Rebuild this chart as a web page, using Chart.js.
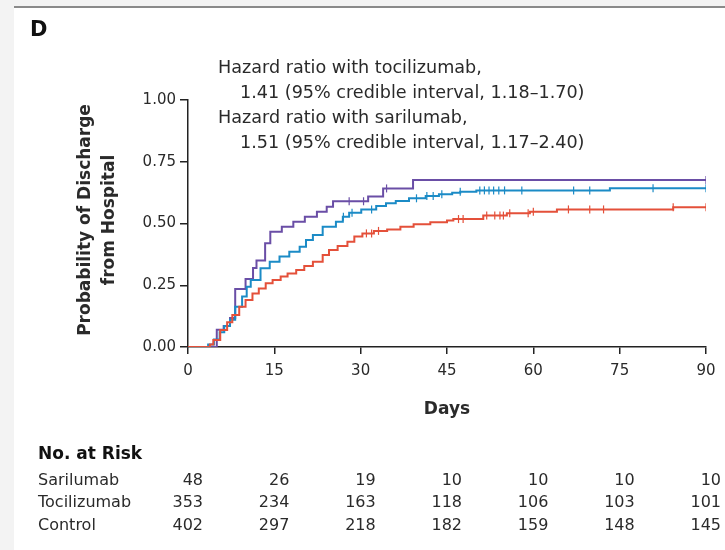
<!DOCTYPE html>
<html>
<head>
<meta charset="utf-8">
<script src="https://cdn.jsdelivr.net/npm/chart.js@4.4.1/dist/chart.umd.min.js"></script>
<style>
html,body{margin:0;padding:0;background:#f3f3f3;}
#wrap{position:absolute;left:0;top:0;width:725px;height:550px;}
</style>
</head>
<body>
<div id="wrap"><canvas id="c" width="725" height="550"></canvas></div>
<script>
// ---- data ----
const sarilumabDays = [0, 5.0, 6.2, 7.3, 8.2, 10.0, 11.3, 11.9, 13.4, 14.3, 16.3, 18.3, 20.3, 22.4, 24.1, 25.2, 31.3, 33.9, 39.1, 90];
const sarilumabProb = [0, 0.07, 0.085, 0.117, 0.235, 0.275, 0.32, 0.35, 0.42, 0.467, 0.487, 0.507, 0.527, 0.548, 0.568, 0.59, 0.609, 0.642, 0.676, 0.676];

const tocilizumabDays = [0, 3.5, 4.5, 5.5, 6.3, 7.3, 8.2, 9.4, 10.2, 10.9, 12.6, 14.2, 15.9, 17.6, 19.4, 20.5, 21.7, 23.4, 25.7, 26.9, 28.0, 30.1, 32.7, 34.4, 36.1, 38.4, 41.3, 43.6, 45.9, 47.3, 50.1, 73.3, 90];
const tocilizumabProb = [0, 0.01, 0.03, 0.06, 0.085, 0.11, 0.163, 0.204, 0.244, 0.271, 0.319, 0.345, 0.366, 0.386, 0.406, 0.433, 0.453, 0.487, 0.507, 0.527, 0.544, 0.557, 0.571, 0.582, 0.591, 0.602, 0.611, 0.618, 0.625, 0.629, 0.634, 0.643, 0.643];

const controlDays = [0, 3.8, 4.4, 5.6, 6.8, 7.7, 8.9, 10.0, 11.2, 12.3, 13.5, 14.7, 16.1, 17.3, 18.8, 20.2, 21.7, 23.4, 24.5, 26.0, 27.7, 28.9, 30.3, 32.3, 34.6, 36.9, 39.2, 42.1, 45.0, 46.1, 51.3, 55.4, 59.4, 64.1, 84.3, 90];
const controlProb = [0, 0.01, 0.028, 0.069, 0.10, 0.13, 0.163, 0.19, 0.217, 0.237, 0.258, 0.271, 0.285, 0.298, 0.312, 0.328, 0.345, 0.372, 0.393, 0.409, 0.426, 0.447, 0.46, 0.47, 0.476, 0.487, 0.497, 0.505, 0.512, 0.518, 0.532, 0.541, 0.548, 0.557, 0.566, 0.566];

const sarilumabCensored = [28, 30.5, 34.5, 90];
const tocilizumabCensored = [27, 28.5, 31.9, 39.7, 41.5, 42.6, 44.1, 47.3, 50.7, 51.5, 52.3, 53.1, 54, 55, 58, 67, 69.8, 80.8, 90];
const controlCensored = [31.0, 31.9, 33.1, 47.0, 47.8, 51.9, 53.3, 54.2, 54.8, 55.9, 59.1, 60, 66.1, 69.8, 72.2, 84.3, 90];

const xTicks = [0, 15, 30, 45, 60, 75, 90];
const yTicks = [0, 0.25, 0.5, 0.75, 1.0];

const riskGroups = ['Sarilumab', 'Tocilizumab', 'Control'];
const riskSarilumab = [48, 26, 19, 10, 10, 10, 10];
const riskTocilizumab = [353, 234, 163, 118, 106, 103, 101];
const riskControl = [402, 297, 218, 182, 159, 148, 145];

const hrLines = [
  'Hazard ratio with tocilizumab,',
  '1.41 (95% credible interval, 1.18\u20131.70)',
  'Hazard ratio with sarilumab,',
  '1.51 (95% credible interval, 1.17\u20132.40)'
];

// ---- styling ----
const C_SAR = '#6a4ea6';
const C_TOC = '#1b8bc6';
const C_CON = '#e4503a';
const FONT = '"DejaVu Sans", "Liberation Sans", sans-serif';
const TXT = '#2a2a2a';

function pts(d, p) { return d.map((x, i) => ({x: x, y: p[i]})); }
function stepAt(d, p, t) { let v = p[0]; for (let i = 0; i < d.length; i++) { if (d[i] <= t) v = p[i]; } return v; }
function censorPts(c, d, p) { return c.map(t => ({x: t, y: stepAt(d, p, t)})); }

const lineDs = (label, d, p, col) => ({
  label, data: pts(d, p), borderColor: col, backgroundColor: col, borderWidth: 2,
  stepped: 'before', pointRadius: 0, fill: false, order: 2
});
const censorDs = (label, c, d, p, col) => ({
  label, data: censorPts(c, d, p), type: 'scatter', showLine: false,
  pointStyle: 'line', rotation: 90, pointRadius: 4, borderColor: col, borderWidth: 1.2, order: 1
});

const frame = {
  id: 'frame',
  beforeDraw(chart) {
    const ctx = chart.ctx;
    ctx.save();
    ctx.fillStyle = '#f3f3f3';
    ctx.fillRect(0, 0, 725, 550);
    ctx.fillStyle = '#ffffff';
    ctx.fillRect(14, 8, 711, 542);
    ctx.fillStyle = '#8a8a8a';
    ctx.fillRect(14, 6, 711, 2);
    ctx.restore();
  },
  afterDraw(chart) {
    const ctx = chart.ctx;
    const xs = chart.scales.x;
    ctx.save();
    ctx.fillStyle = '#111';
    ctx.textBaseline = 'middle';
    ctx.font = 'bold 21px ' + FONT;
    ctx.textAlign = 'left';
    ctx.fillText('D', 30, 31);

    ctx.fillStyle = TXT;
    ctx.font = '17.6px ' + FONT;
    ctx.fillText(hrLines[0], 218, 68);
    ctx.fillText(hrLines[1], 240, 93);
    ctx.fillText(hrLines[2], 218, 118);
    ctx.fillText(hrLines[3], 240, 143);

    // y title
    ctx.save();
    ctx.translate(86, 220);
    ctx.rotate(-Math.PI / 2);
    ctx.textAlign = 'center';
    ctx.font = 'bold 17px ' + FONT;
    ctx.fillText('Probability of Discharge', 0, 0);
    ctx.fillText('from Hospital', 0, 24);
    ctx.restore();

    // x title
    ctx.textAlign = 'center';
    ctx.font = 'bold 17px ' + FONT;
    ctx.fillText('Days', (xs.left + xs.right) / 2, 410);

    // risk table
    ctx.textAlign = 'left';
    ctx.font = 'bold 17px ' + FONT;
    ctx.fillStyle = '#111';
    ctx.fillText('No. at Risk', 38, 455);
    ctx.font = '16px ' + FONT;
    ctx.fillStyle = TXT;
    const rows = [riskSarilumab, riskTocilizumab, riskControl];
    const ys = [481, 503, 526];
    rows.forEach((r, i) => {
      ctx.textAlign = 'left';
      ctx.fillText(riskGroups[i], 38, ys[i]);
      ctx.textAlign = 'right';
      r.forEach((v, j) => ctx.fillText(String(v), xs.getPixelForValue(xTicks[j]) + 15, ys[i]));
    });
    ctx.restore();
  }
};

new Chart(document.getElementById('c'), {
  type: 'line',
  data: {
    datasets: [
      lineDs('Control', controlDays, controlProb, C_CON),
      lineDs('Tocilizumab', tocilizumabDays, tocilizumabProb, C_TOC),
      lineDs('Sarilumab', sarilumabDays, sarilumabProb, C_SAR),
      censorDs('Control censored', controlCensored, controlDays, controlProb, C_CON),
      censorDs('Tocilizumab censored', tocilizumabCensored, tocilizumabDays, tocilizumabProb, C_TOC),
      censorDs('Sarilumab censored', sarilumabCensored, sarilumabDays, sarilumabProb, C_SAR)
    ]
  },
  options: {
    responsive: false,
    animation: false,
    devicePixelRatio: 1,
    layout: { padding: { left: 0, right: 19, top: 100, bottom: 0 } },
    plugins: { legend: { display: false }, tooltip: { enabled: false } },
    scales: {
      x: {
        type: 'linear', min: 0, max: 90,
        afterBuildTicks(s) { s.ticks = xTicks.map(v => ({value: v})); },
        afterFit(s) { s.height = 203; },
        grid: { drawOnChartArea: false, drawTicks: true, tickLength: 7, color: '#222', lineWidth: 1.5 },
        border: { display: true, color: '#222', width: 1.5 },
        ticks: { color: TXT, font: { family: FONT, size: 15 }, padding: 8, maxRotation: 0 }
      },
      y: {
        min: 0, max: 1,
        afterBuildTicks(s) { s.ticks = yTicks.map(v => ({value: v})); },
        afterFit(s) { s.width = 188; },
        grid: { drawOnChartArea: false, drawTicks: true, tickLength: 8, color: '#222', lineWidth: 1.5 },
        border: { display: true, color: '#222', width: 1.5 },
        ticks: { color: TXT, font: { family: FONT, size: 15 }, padding: 4, callback: v => v.toFixed(2) }
      }
    }
  },
  plugins: [frame]
});
</script>
</body>
</html>
